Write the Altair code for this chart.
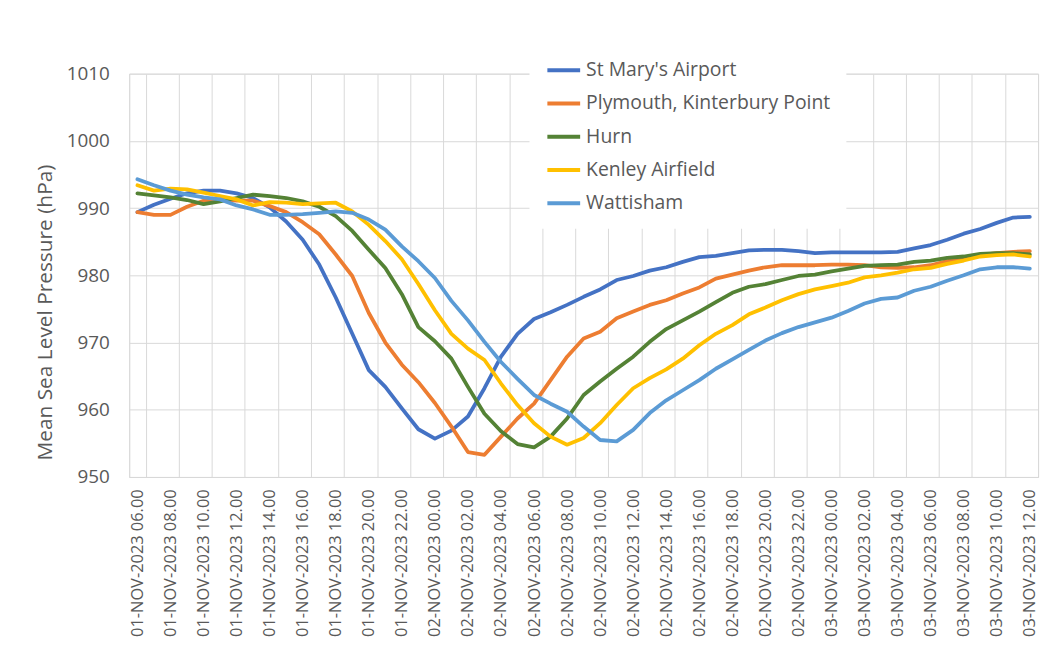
import altair as alt
import pandas as pd

# ---- category labels (hourly, 01-NOV-2023 06.00 .. 03-NOV-2023 12.00) ----
times = []
for h in range(6, 6 + 55):
    times.append(f"{1 + h // 24:02d}-NOV-2023 {h % 24:02d}.00")

stations = ["St Mary's Airport", "Plymouth, Kinterbury Point", "Hurn",
            "Kenley Airfield", "Wattisham"]
colors = ["#4472C4", "#ED7D31", "#548235", "#FFC000", "#5B9BD5"]

st_marys = [989.4, 990.5, 991.4, 992.2, 992.6, 992.6, 992.2, 991.5, 990.1, 988.0,
            985.3, 981.6, 976.7, 971.3, 965.9, 963.4, 960.2, 957.1, 955.7, 956.9,
            959.0, 963.2, 967.9, 971.3, 973.5, 974.5, 975.6, 976.8, 977.9, 979.3,
            979.9, 980.7, 981.2, 982.0, 982.7, 982.9, 983.3, 983.7, 983.8, 983.8,
            983.6, 983.3, 983.4, 983.4, 983.4, 983.4, 983.5, 984.0, 984.5, 985.3,
            986.2, 986.9, 987.8, 988.6, 988.7]
plymouth = [989.4, 989.0, 989.0, 990.2, 991.1, 991.3, 991.1, 991.1, 990.3, 989.4,
            987.9, 986.1, 983.1, 979.9, 974.4, 970.0, 966.7, 964.1, 961.0, 957.5,
            953.7, 953.3, 956.0, 958.7, 960.9, 964.4, 967.9, 970.6, 971.6, 973.6,
            974.6, 975.6, 976.3, 977.3, 978.2, 979.5, 980.1, 980.7, 981.2, 981.5,
            981.5, 981.5, 981.6, 981.6, 981.5, 981.2, 981.1, 981.2, 981.5, 982.1,
            982.5, 983.0, 983.3, 983.5, 983.6]
hurn = [992.2, 991.9, 991.6, 991.2, 990.6, 991.0, 991.5, 992.0, 991.8, 991.5,
        991.0, 990.2, 988.8, 986.6, 983.8, 981.1, 977.2, 972.3, 970.2, 967.6,
        963.4, 959.4, 956.8, 954.9, 954.4, 956.0, 958.7, 962.2, 964.2, 966.1,
        967.9, 970.1, 972.0, 973.3, 974.6, 976.0, 977.4, 978.3, 978.7, 979.3,
        979.9, 980.1, 980.6, 981.0, 981.4, 981.5, 981.6, 982.0, 982.2, 982.6,
        982.8, 983.2, 983.3, 983.3, 983.1]
kenley = [993.4, 992.6, 992.9, 992.8, 992.3, 991.8, 991.3, 990.4, 990.9, 990.8,
          990.6, 990.7, 990.8, 989.5, 987.5, 985.1, 982.4, 978.7, 974.8, 971.3,
          969.1, 967.4, 963.9, 960.7, 958.0, 956.0, 954.8, 955.8, 958.0, 960.7,
          963.2, 964.7, 966.0, 967.6, 969.6, 971.3, 972.6, 974.2, 975.2, 976.3,
          977.2, 977.9, 978.4, 978.9, 979.7, 980.0, 980.4, 980.9, 981.1, 981.7,
          982.2, 982.8, 983.0, 983.1, 982.8]
wattisham = [994.3, 993.4, 992.6, 992.0, 991.6, 991.3, 990.4, 989.8, 989.0, 989.0,
             989.1, 989.3, 989.5, 989.3, 988.3, 986.8, 984.3, 982.1, 979.6, 976.2,
             973.3, 970.1, 967.1, 964.6, 962.2, 960.9, 959.7, 957.5, 955.5, 955.3,
             957.0, 959.5, 961.4, 962.9, 964.4, 966.1, 967.5, 968.9, 970.3, 971.4,
             972.3, 973.0, 973.7, 974.7, 975.8, 976.5, 976.7, 977.7, 978.3, 979.2,
             980.0, 980.9, 981.2, 981.2, 981.0]

y_ticks = [950, 960, 970, 980, 990, 1000, 1010]

series = [st_marys, plymouth, hurn, kenley, wattisham]
rows = []
for name, vals in zip(stations, series):
    for t, v in zip(times, vals):
        rows.append({"time": t, "station": name, "pressure": v})
df = pd.DataFrame(rows)

FONT = "Open Sans"
GREY = "#595959"
GRID = "#D9D9D9"

chart = alt.Chart(df).mark_line(strokeWidth=3.8, strokeJoin="round", strokeCap="round").encode(
    x=alt.X("time:O", sort=times, bandPosition=0.5,
            scale=alt.Scale(type="band", domain=times, paddingInner=0, paddingOuter=0),
            axis=alt.Axis(values=times[::2], tickBand="extent", grid=True, gridColor=GRID,
                          gridWidth=1, ticks=False, labelAngle=-90, labelFontSize=16.5,
                          labelColor=GREY, labelFont=FONT, labelPadding=12,
                          domainColor=GRID, domainWidth=1, title=None, labelOverlap=False)),
    y=alt.Y("pressure:Q", scale=alt.Scale(domain=[950, 1010], nice=False, zero=False),
            axis=alt.Axis(values=y_ticks, format="d", title="Mean Sea Level Pressure (hPa)",
                          grid=True, gridColor=GRID, gridWidth=1, domain=False, ticks=False,
                          labelFontSize=19, labelColor=GREY, labelFont=FONT, labelPadding=20,
                          titleFont=FONT, titleFontSize=21, titleColor=GREY,
                          titleFontWeight="normal", titlePadding=11, titleY=240)),
    color=alt.Color("station:N", sort=stations,
                    scale=alt.Scale(domain=stations, range=colors),
                    legend=alt.Legend(title=None, orient="none", legendX=403, legendY=-38,
                                      fillColor="white", padding=16, symbolType="stroke",
                                      symbolSize=1089, symbolStrokeWidth=4, rowPadding=5.5,
                                      labelFont=FONT, labelFontSize=19.5, labelColor=GREY,
                                      labelOffset=4, labelLimit=400, zindex=1)),
).properties(
    width=915, height=406,
    autosize=alt.AutoSizeParams(type="none"),
    padding={"left": 122, "top": 64, "right": 10, "bottom": 160},
).configure_view(stroke=None).configure(background="white")

chart.save("out.html", embed_options={"renderer": "svg", "actions": False})
